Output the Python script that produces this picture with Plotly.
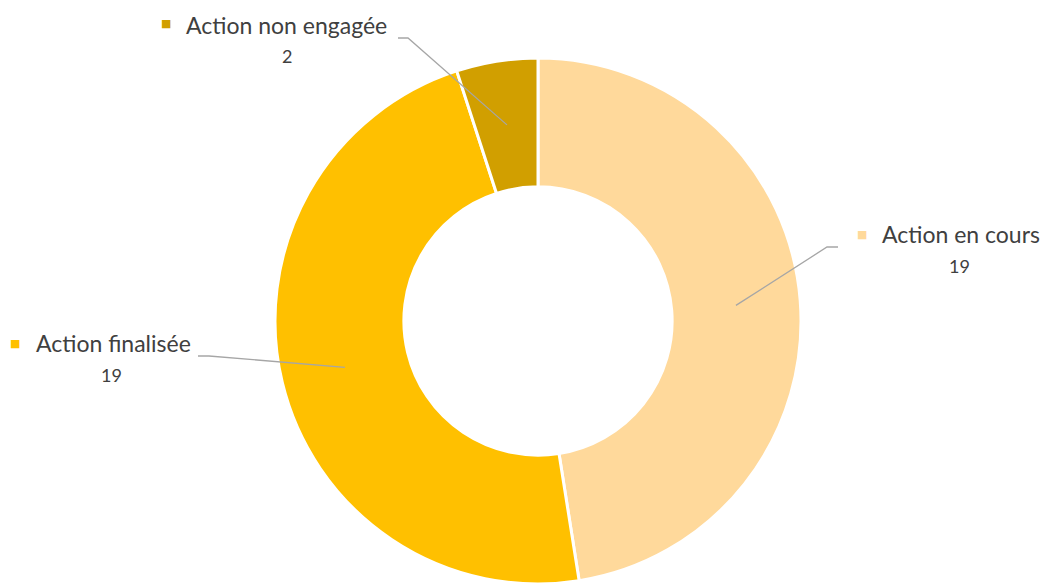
import math
import plotly.graph_objects as go

# Action status breakdown
categories = ["Action en cours", "Action finalisée", "Action non engagée"]
counts = [19, 19, 2]
colors = ["#FFD99B", "#FFC000", "#D19F00"]

W, H = 1041, 585
CX, CY, R = 538, 321, 263   # donut centre and outer radius in pixels
HOLE = 0.51

# label layout (pixels): marker position, name start, value centre, leader elbow/end
label_layout = {
    "Action en cours":    dict(marker=(862, 234), name=(880, 234), value=(959, 266),
                               elbow_start=(838, 247), elbow=(827, 247)),
    "Action finalisée":   dict(marker=(15, 343), name=(34, 343), value=(111, 375),
                               elbow_start=(198, 356), elbow=(209, 356)),
    "Action non engagée": dict(marker=(166, 24), name=(184, 25), value=(287, 56),
                               elbow_start=(398, 38), elbow=(408, 38)),
}

FONT = "Lato, 'Open Sans', sans-serif"
TEXT_COLOR = "#404040"
LEADER_COLOR = "#A6A6A6"


def px(x):
    return x / W


def py(y):
    return 1 - y / H


fig = go.Figure(go.Pie(
    labels=categories,
    values=counts,
    hole=HOLE,
    sort=False,
    direction="clockwise",
    rotation=0,
    marker=dict(colors=colors, line=dict(color="white", width=3)),
    textinfo="none",
    hoverinfo="label+value",
    showlegend=False,
    domain=dict(x=[px(CX - R), px(CX + R)], y=[py(CY + R), py(CY - R)]),
))

annotations = []
shapes = []
total = sum(counts)
cum = 0
r_anchor = R * (1 + HOLE) / 2
for cat, val, col in zip(categories, counts, colors):
    mid = (cum + val / 2) / total * 2 * math.pi
    cum += val
    ax = CX + r_anchor * math.sin(mid)
    ay = CY - r_anchor * math.cos(mid)
    lay = label_layout[cat]

    # leader line: short horizontal stub then diagonal to the slice
    (x0, y0), (x1, y1) = lay["elbow_start"], lay["elbow"]
    shapes.append(dict(
        type="path", xref="paper", yref="paper",
        path=f"M {px(x0)} {py(y0)} L {px(x1)} {py(y1)} L {px(ax)} {py(ay)}",
        line=dict(color=LEADER_COLOR, width=1.3),
    ))

    mx, my = lay["marker"]
    annotations.append(dict(
        x=px(mx), y=py(my), xref="paper", yref="paper", showarrow=False,
        text="■", font=dict(size=11, color=col, family="DejaVu Sans"),
        xanchor="center", yanchor="middle",
    ))
    nx, ny = lay["name"]
    annotations.append(dict(
        x=px(nx), y=py(ny), xref="paper", yref="paper", showarrow=False,
        text=cat, font=dict(size=23, color=TEXT_COLOR, family=FONT),
        xanchor="left", yanchor="middle",
    ))
    vx, vy = lay["value"]
    annotations.append(dict(
        x=px(vx), y=py(vy), xref="paper", yref="paper", showarrow=False,
        text=str(val), font=dict(size=18, color=TEXT_COLOR, family=FONT),
        xanchor="center", yanchor="middle",
    ))

fig.update_layout(
    width=W, height=H, autosize=False,
    margin=dict(l=0, r=0, t=0, b=0),
    paper_bgcolor="white", plot_bgcolor="white",
    annotations=annotations, shapes=shapes,
)

fig.write_html("out.html")
